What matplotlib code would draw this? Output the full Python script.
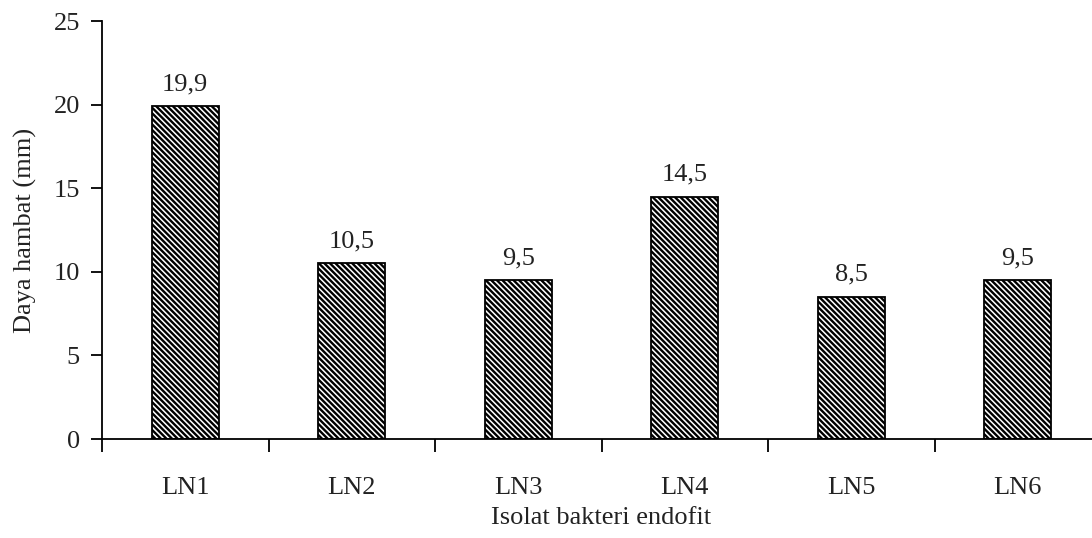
import matplotlib.pyplot as plt
import numpy as np

isolat = ['LN1', 'LN2', 'LN3', 'LN4', 'LN5', 'LN6']
daya_hambat = [19.9, 10.5, 9.5, 14.5, 8.5, 9.5]
label_nilai = ['19,9', '10,5', '9,5', '14,5', '8,5', '9,5']

plt.rcParams['font.family'] = ['Liberation Serif', 'DejaVu Serif']
plt.rcParams['hatch.linewidth'] = 1.7

fig = plt.figure(figsize=(10.92, 5.38), dpi=100)
ax = fig.add_axes([102 / 1092, 99 / 538, 999 / 1092, 418 / 538])

x = np.arange(len(isolat))
ax.bar(x, daya_hambat, width=0.4, color='white', edgecolor='black',
       hatch='\\\\\\\\\\\\', linewidth=1.3)

for xi, v, t in zip(x, daya_hambat, label_nilai):
    ax.annotate(t, (xi, v), xytext=(0, 8), textcoords='offset points',
                ha='center', va='bottom', fontsize=19, color='#222222')

ax.set_xlim(-0.5, 5.5)
ax.set_ylim(0, 25)
ax.set_yticks([0, 5, 10, 15, 20, 25])
ax.tick_params(axis='y', labelsize=19, length=8, width=1.3, direction='out',
               pad=8, labelcolor='#222222')

# ticks on category boundaries, labels in between
ax.set_xticks(np.arange(-0.5, 6.0, 1.0))
ax.set_xticklabels([])
ax.tick_params(axis='x', which='major', length=9, width=1.3, direction='out')
ax.set_xticks(x, minor=True)
ax.set_xticklabels(isolat, minor=True)
ax.tick_params(axis='x', which='minor', length=0, labelsize=19, pad=27,
               labelcolor='#222222')

ax.spines['top'].set_visible(False)
ax.spines['right'].set_visible(False)
ax.spines['left'].set_linewidth(1.3)
ax.spines['bottom'].set_linewidth(1.3)

ax.set_xlabel('Isolat bakteri endofit', fontsize=19, labelpad=6, color='#222222')
ax.set_ylabel('Daya hambat (mm)', fontsize=19, labelpad=12, color='#222222')

fig.savefig('out.png', dpi=100)
